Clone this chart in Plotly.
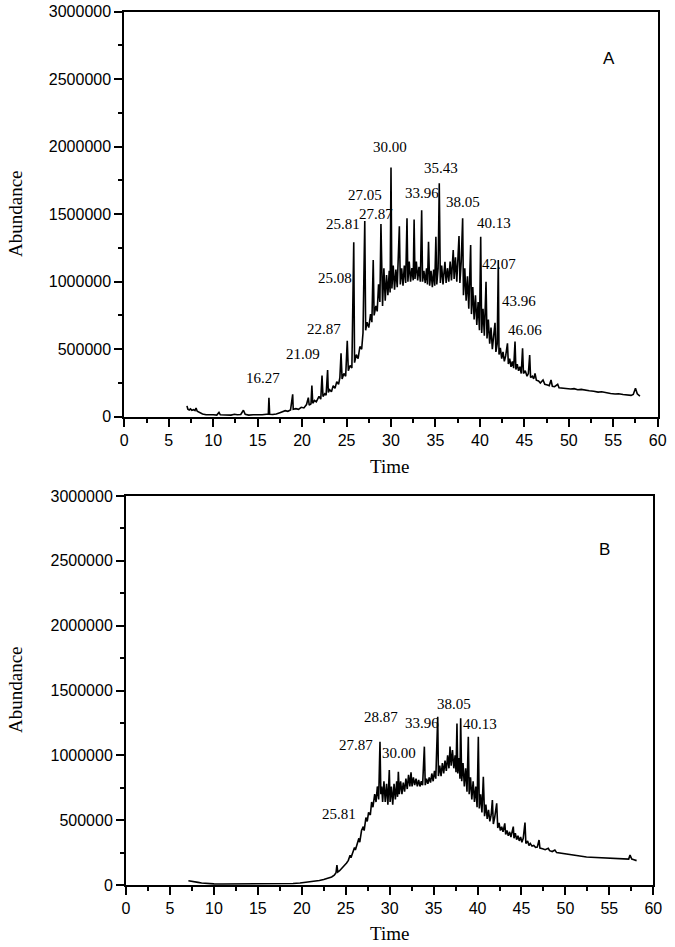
import plotly.graph_objects as go

# ---------------- Data ----------------
# Panel A: retention time (min) and abundance (thousands)
time_a = [7.05, 7.15, 7.3, 7.45, 7.6, 7.8, 7.95, 8.07, 8.2, 8.5, 8.8, 9.2, 9.6, 10.0, 10.4, 10.65, 10.8, 11.2, 11.6, 12.0,
          12.4, 12.7, 13.1, 13.4, 13.6, 14.0, 14.5, 15.0, 15.5, 16.0, 16.2, 16.27, 16.35, 16.7, 17.1, 17.5, 17.8, 18.1, 18.4, 18.7,
          18.94, 19.0, 19.3, 19.6, 19.9, 20.2, 20.5, 20.7, 20.8, 21.0, 21.1, 21.2, 21.4, 21.6, 21.9, 22.1, 22.24, 22.35, 22.55, 22.7,
          22.87, 22.95, 23.1, 23.3, 23.5, 23.7, 23.9, 24.1, 24.25, 24.38, 24.5, 24.7, 24.9, 25.08, 25.2, 25.4, 25.6, 25.81, 25.9, 26.1,
          26.3, 26.5, 26.7, 26.85, 27.05, 27.15, 27.3, 27.5, 27.7, 27.85, 28.0, 28.1, 28.3, 28.45, 28.6, 28.75, 28.87, 28.95, 29.05, 29.2,
          29.35, 29.5, 29.65, 29.8, 29.9, 30.0, 30.1, 30.25, 30.4, 30.55, 30.7, 30.94, 31.05, 31.2, 31.35, 31.5, 31.65, 31.8, 31.9, 32.05,
          32.2, 32.35, 32.5, 32.6, 32.7, 32.85, 33.0, 33.15, 33.3, 33.45, 33.55, 33.7, 33.85, 34.0, 34.1, 34.22, 34.35, 34.5, 34.65, 34.8,
          34.92, 35.05, 35.15, 35.3, 35.43, 35.55, 35.7, 35.85, 36.07, 36.2, 36.35, 36.5, 36.65, 36.8, 37.0, 37.1, 37.25, 37.4, 37.65, 37.75,
          37.9, 38.06, 38.15, 38.3, 38.45, 38.6, 38.75, 38.96, 39.05, 39.2, 39.35, 39.5, 39.65, 39.8, 39.95, 40.09, 40.2, 40.35, 40.5, 40.69,
          40.8, 40.95, 41.1, 41.25, 41.4, 41.55, 41.7, 41.8, 41.95, 42.07, 42.15, 42.3, 42.45, 42.6, 42.75, 42.9, 43.1, 43.2, 43.35, 43.5,
          43.65, 43.8, 43.95, 44.05, 44.2, 44.35, 44.5, 44.65, 44.8, 44.9, 45.1, 45.3, 45.45, 45.6, 45.7, 45.9, 46.05, 46.2, 46.35, 46.6,
          46.8, 47.1, 47.3, 47.6, 47.8, 48.0, 48.15, 48.4, 48.75, 48.9, 49.3, 49.7, 50.2, 50.6, 51.0, 51.4, 51.8, 52.3, 52.8, 53.3,
          53.7, 54.2, 54.7, 55.2, 55.6, 56.1, 56.6, 57.0, 57.25, 57.5, 57.7, 58.0]
abund_a_k = [80, 55, 50, 58, 48, 52, 45, 65, 40, 30, 20, 15, 12, 14, 12, 32, 14, 12, 15, 12,
             18, 14, 16, 48, 18, 12, 14, 12, 15, 18, 18, 140, 18, 16, 20, 30, 35, 45, 40, 50,
             166, 55, 60, 55, 70, 65, 90, 141, 85, 95, 230, 100, 120, 110, 150, 130, 304, 150, 170, 160,
             346, 180, 200, 185, 230, 210, 260, 240, 290, 470, 280, 320, 300, 563, 340, 380, 360, 1292, 400, 460,
             430, 520, 500, 620, 1450, 640, 700, 660, 760, 700, 1161, 750, 820, 780, 980, 850, 1427, 1050, 820, 1100,
             860, 1050, 900, 1080, 920, 1845, 950, 1120, 940, 1090, 960, 1410, 980, 1100, 970, 1120, 990, 1470, 1000, 1150,
             1000, 1100, 1010, 1460, 1020, 1150, 1010, 1110, 1000, 1530, 1000, 1080, 990, 1100, 980, 1296, 970, 1080, 960, 1090,
             970, 1333, 980, 1100, 1729, 990, 1120, 980, 1148, 990, 1100, 1000, 1150, 1010, 1235, 1020, 1180, 1000, 1339, 990,
             1150, 1470, 900, 1100, 860, 1040, 800, 1272, 760, 960, 720, 900, 680, 850, 640, 1333, 620, 800, 600, 1000,
             580, 720, 540, 660, 500, 600, 696, 480, 540, 1161, 460, 510, 430, 480, 410, 450, 544, 390, 430, 370,
             410, 360, 556, 350, 390, 340, 370, 320, 507, 320, 340, 300, 320, 457, 290, 300, 280, 321, 270, 265,
             250, 272, 240, 235, 230, 272, 225, 222, 240, 215, 212, 210, 205, 208, 200, 202, 196, 192, 188, 182,
             185, 176, 172, 168, 170, 164, 160, 158, 165, 210, 170, 153]

# Panel B
time_b = [7.1, 7.4, 7.8, 8.2, 8.6, 9.0, 9.5, 10.0, 11.0, 12.0, 13.0, 14.0, 15.0, 16.0, 17.0, 18.0, 19.0, 19.8, 20.5, 21.0,
          21.5, 22.0, 22.5, 23.0, 23.4, 23.7, 23.9, 24.0, 24.1, 24.3, 24.5, 24.7, 24.9, 25.1, 25.3, 25.5, 25.6, 25.8, 26.0, 26.1,
          26.3, 26.5, 26.6, 26.8, 27.0, 27.1, 27.3, 27.45, 27.6, 27.8, 27.95, 28.1, 28.3, 28.45, 28.6, 28.75, 28.9, 29.0, 29.1, 29.2,
          29.35, 29.5, 29.65, 29.8, 29.96, 30.05, 30.2, 30.35, 30.5, 30.65, 30.8, 30.9, 30.99, 31.1, 31.25, 31.4, 31.55, 31.7, 31.85, 32.0,
          32.15, 32.3, 32.43, 32.55, 32.7, 32.85, 33.0, 33.15, 33.3, 33.45, 33.6, 33.75, 33.95, 34.05, 34.2, 34.35, 34.5, 34.65, 34.8, 34.95,
          35.1, 35.25, 35.47, 35.55, 35.7, 35.85, 36.0, 36.15, 36.3, 36.45, 36.6, 36.75, 36.87, 37.0, 37.15, 37.3, 37.45, 37.55, 37.66, 37.75,
          37.9, 38.0, 38.08, 38.2, 38.35, 38.5, 38.65, 38.8, 38.95, 39.05, 39.2, 39.35, 39.5, 39.65, 39.8, 39.95, 40.09, 40.2, 40.35, 40.5,
          40.66, 40.8, 40.95, 41.1, 41.25, 41.4, 41.55, 41.69, 41.8, 41.95, 42.18, 42.3, 42.45, 42.6, 42.75, 42.9, 43.1, 43.2, 43.35, 43.5,
          43.65, 43.8, 44.07, 44.15, 44.3, 44.45, 44.6, 44.75, 44.9, 45.05, 45.2, 45.4, 45.5, 45.7, 45.85, 46.0, 46.2, 46.4, 46.6, 46.8,
          47.0, 47.1, 47.4, 47.7, 48.05, 48.2, 48.5, 48.8, 49.0, 49.4, 49.8, 50.2, 50.6, 51.0, 51.4, 51.9, 52.4, 52.9, 53.4, 53.9,
          54.4, 54.9, 55.4, 55.9, 56.4, 56.9, 57.2, 57.35, 57.55, 57.8, 58.1]
abund_b_k = [33, 28, 25, 20, 15, 12, 10, 9, 8, 8, 7, 7, 7, 8, 8, 9, 11, 15, 20, 24,
             28, 35, 42, 50, 62, 75, 95, 154, 100, 110, 125, 140, 150, 170, 190, 230, 210, 250, 290, 270,
             320, 360, 330, 420, 450, 420, 520, 490, 560, 540, 640, 600, 700, 640, 760, 660, 1105, 700, 760, 640,
             800, 640, 780, 620, 887, 640, 760, 620, 780, 660, 800, 680, 873, 700, 800, 700, 790, 720, 820, 740,
             850, 760, 870, 760, 830, 770, 820, 760, 810, 760, 800, 770, 1067, 770, 820, 780, 830, 790, 860, 800,
             880, 820, 1298, 840, 920, 840, 940, 860, 960, 880, 1000, 900, 1067, 920, 1040, 900, 1000, 870, 1246, 860,
             980, 820, 1285, 800, 940, 760, 900, 720, 1144, 700, 830, 660, 800, 640, 760, 600, 1144, 590, 700, 560,
             835, 530, 620, 510, 580, 490, 540, 655, 470, 520, 630, 440, 480, 420, 450, 410, 475, 390, 420, 380,
             410, 370, 450, 360, 400, 350, 380, 340, 370, 330, 360, 481, 320, 340, 305, 320, 300, 305, 290, 292,
             347, 285, 280, 272, 283, 265, 258, 270, 250, 246, 240, 236, 232, 228, 224, 218, 216, 214, 212, 213,
             208, 204, 202, 200, 198, 196, 200, 231, 200, 195, 188]

# Peak labels: text, time, abundance (thousands) of label position
labels_a = ["16.27", "21.09", "22.87", "25.08", "25.81", "27.05", "27.87", "30.00", "35.43", "33.96", "38.05",
            "40.13", "42.07", "43.96", "46.06"]
label_a_t = [15.63, 20.07, 22.46, 23.7, 24.56, 27.07, 28.28, 29.9, 35.59, 33.52, 38.06, 41.59, 42.15, 44.43, 45.07]
label_a_y = [284, 464, 647, 1030, 1425, 1642, 1501, 2000, 1840, 1659, 1593, 1437, 1129, 857, 642]

labels_b = ["25.81", "27.87", "28.87", "30.00", "33.96", "38.05", "40.13"]
label_b_t = [24.27, 26.14, 28.98, 31.06, 33.65, 37.32, 40.28]
label_b_y = [547, 1080, 1293, 1016, 1246, 1394, 1238]

panel_names = ["A", "B"]
x_ticks = [0, 5, 10, 15, 20, 25, 30, 35, 40, 45, 50, 55, 60]
y_ticks = [0, 500000, 1000000, 1500000, 2000000, 2500000, 3000000]

# ---------------- Figure ----------------
W = 675.0
H = 947.0

def px_x(v):
    return v / W

def px_y(v):
    return 1 - v / H

fig = go.Figure()
fig.add_trace(go.Scatter(x=time_a, y=[v * 1000 for v in abund_a_k], mode="lines",
                         line=dict(color="black", width=1.6), xaxis="x", yaxis="y", showlegend=False))
fig.add_trace(go.Scatter(x=time_b, y=[v * 1000 for v in abund_b_k], mode="lines",
                         line=dict(color="black", width=1.6), xaxis="x2", yaxis="y2", showlegend=False))

serif = "Liberation Serif, Times New Roman, serif"
sans = "Liberation Sans, Arial, sans-serif"

annotations = []
for txt, t, v in zip(labels_a, label_a_t, label_a_y):
    annotations.append(dict(x=t, y=v * 1000, xref="x", yref="y", text=txt, showarrow=False,
                            xanchor="center", yanchor="middle",
                            font=dict(family=serif, size=15, color="black")))
for txt, t, v in zip(labels_b, label_b_t, label_b_y):
    annotations.append(dict(x=t, y=v * 1000, xref="x2", yref="y2", text=txt, showarrow=False,
                            xanchor="center", yanchor="middle",
                            font=dict(family=serif, size=15, color="black")))
annotations.append(dict(x=54.5, y=2650000, xref="x", yref="y", text=panel_names[0], showarrow=False,
                        xanchor="center", yanchor="middle",
                        font=dict(family=sans, size=17, color="black")))
annotations.append(dict(x=54.5, y=2590000, xref="x2", yref="y2", text=panel_names[1], showarrow=False,
                        xanchor="center", yanchor="middle",
                        font=dict(family=sans, size=17, color="black")))

for (xc, yc, txt, ang) in [(15, 214, "Abundance", -90), (390, 466, "Time", 0),
                           (15, 690, "Abundance", -90), (390, 933, "Time", 0)]:
    annotations.append(dict(x=px_x(xc), y=px_y(yc), xref="paper", yref="paper", text=txt, textangle=ang,
                            showarrow=False, xanchor="center", yanchor="middle",
                            font=dict(family=serif, size=19, color="black")))

def xax(domain, anchor):
    return dict(domain=domain, anchor=anchor, range=[0, 60], tickvals=x_ticks, ticks="outside", ticklen=8,
                tickwidth=2, tickcolor="black", showline=True, linewidth=2, linecolor="black", mirror=True,
                showgrid=False, zeroline=False, automargin=False, ticklabeloverflow="allow",
                tickfont=dict(family=sans, size=16, color="black"),
                minor=dict(tickvals=[2.5 + 5 * i for i in range(12)], ticks="outside", ticklen=4,
                           tickwidth=2, tickcolor="black"))

def yax(domain, anchor):
    return dict(domain=domain, anchor=anchor, range=[0, 3000000], tickvals=y_ticks,
                ticktext=[str(v) for v in y_ticks], ticks="outside", ticklen=8,
                tickwidth=2, tickcolor="black", showline=True, linewidth=2, linecolor="black", mirror=True,
                showgrid=False, zeroline=False, automargin=False, ticklabeloverflow="allow",
                tickfont=dict(family=sans, size=16, color="black"),
                minor=dict(tickvals=[250000 + 500000 * i for i in range(6)], ticks="outside", ticklen=4,
                           tickwidth=2, tickcolor="black"))

fig.update_layout(
    width=int(W), height=int(H),
    margin=dict(l=0, r=0, t=0, b=0),
    paper_bgcolor="white", plot_bgcolor="white",
    template="none",
    showlegend=False,
    xaxis=xax([px_x(124.3), px_x(657.7)], "y"),
    yaxis=yax([px_y(416.7), px_y(11.7)], "x"),
    xaxis2=xax([px_x(126), px_x(653.3)], "y2"),
    yaxis2=yax([px_y(885), px_y(496)], "x2"),
    annotations=annotations,
)

fig.write_html("out.html", config={"displayModeBar": False},
               post_script="document.body.style.margin='0px';document.body.style.overflow='hidden';")
